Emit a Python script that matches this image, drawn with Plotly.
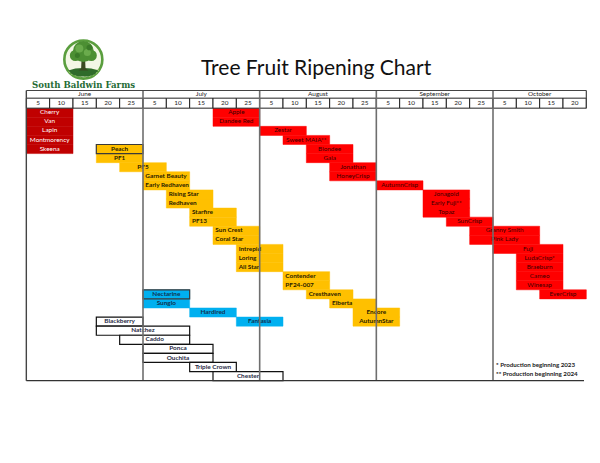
import math
import plotly.graph_objects as go

# ---------------- data ----------------
months = ["June", "July", "August", "September", "October"]
month_days = [[5, 10, 15, 20, 25], [5, 10, 15, 20, 25], [5, 10, 15, 20, 25],
              [5, 10, 15, 20, 25], [5, 10, 15, 20]]

# each variety: row, first 5-day period index, end period index (exclusive)
cherry_names = ["Cherry", "Van", "Lapin", "Montmorency", "Skeena"]
cherry_rows = [0, 1, 2, 3, 4]
cherry_start = [0, 0, 0, 0, 0]
cherry_end = [2, 2, 2, 2, 2]

apple_names = ["Apple", "Dandee Red", "Zestar", "Sweet MAIA**", "Blondee", "Gala",
               "Jonathan", "HoneyCrisp", "AutumnCrisp", "Jonagold", "Early Fuji**",
               "Topaz", "SunCrisp", "Granny Smith", "Pink Lady", "Fuji",
               "LudaCrisp*", "Braeburn", "Cameo", "Winesap", "EverCrisp"]
apple_rows = list(range(21))
apple_start = [8, 8, 10, 11, 12, 12, 13, 13, 15, 17, 17, 17, 18, 19, 19, 20, 21, 21, 21, 21, 22]
apple_end = [10, 10, 12, 13, 14, 14, 15, 15, 17, 19, 19, 19, 20, 22, 22, 23, 23, 23, 23, 23, 24]

peach_names = ["Peach", "PF1", "PF5", "Garnet Beauty", "Early Redhaven", "Rising Star",
               "Redhaven", "Starfire", "PF13", "Sun Crest", "Coral Star", "Intrepid",
               "Loring", "All Star", "Contender", "PF24-007", "Cresthaven", "Elberta",
               "Encore", "AutumnStar"]
peach_rows = list(range(4, 24))
peach_start = [3, 3, 4, 5, 5, 6, 6, 7, 7, 8, 8, 9, 9, 9, 11, 11, 12, 13, 14, 14]
peach_end = [5, 5, 6, 7, 7, 8, 8, 9, 9, 10, 10, 11, 11, 11, 13, 13, 14, 15, 16, 16]

nect_names = ["Nectarine", "Sunglo", "Hardired", "Fantasia"]
nect_rows = [20, 21, 22, 23]
nect_start = [5, 5, 7, 9]
nect_end = [7, 7, 9, 11]

berry_names = ["Blackberry", "Natchez", "Caddo", "Ponca", "Ouchita", "Triple Crown", "Chester"]
berry_rows = [23, 24, 25, 26, 27, 28, 29]
berry_start = [3, 3, 4, 5, 5, 7, 8]
berry_end = [5, 7, 7, 8, 8, 9, 11]

footnotes = ["* Production beginning 2023", "** Production beginning 2024"]

# labels drawn flush-left (text overflowing the cell, as in the sheet)
left_aligned = {"Garnet Beauty", "Early Redhaven", "Rising Star", "Redhaven", "Starfire",
                "PF13", "Sun Crest", "Coral Star", "Intrepid", "Loring", "All Star",
                "Contender", "PF24-007", "Cresthaven", "Elberta"}

# ---------------- geometry ----------------
OFF = 8                      # default <body> margin of the html page
W, H = 600 - OFF, 463 - OFF
XR = [-0.1, 24.2]
YR = [30.15, -2.0]
px_per_x = 23.333
px_per_y = 9.055
x_origin = 26.0 - OFF
y_origin = 108.5 - OFF
ml = x_origin + XR[0] * px_per_x
mr = W - (x_origin + XR[1] * px_per_x)
mt = y_origin + YR[1] * px_per_y
mb = H - (y_origin + YR[0] * px_per_y)
pw = W - ml - mr
ph = H - mt - mb


def pxx(px):  # page pixel -> paper
    return (px - OFF - ml) / pw


def pxy(py):
    return (H - mb - (py - OFF)) / ph


FONT = "Lato"
TS = 6.4
fig = go.Figure()


def add_group(names, rows, start, end, fill, line_color, line_w, txt_color, bold,
              outline_first=False):
    fig.add_trace(go.Bar(
        orientation="h",
        y=[r + 0.5 for r in rows],
        x=[e - s for s, e in zip(start, end)],
        base=start,
        width=[1.0] * len(names),
        marker=dict(color=fill, line=dict(color=line_color, width=line_w)),
        hoverinfo="skip",
        showlegend=False,
    ))
    if outline_first:
        fig.add_trace(go.Bar(
            orientation="h", y=[rows[0] + 0.5], x=[end[0] - start[0]], base=[start[0]],
            width=[1.0], marker=dict(color="rgba(0,0,0,0)", line=dict(color="#3a3a3a", width=1.2)),
            hoverinfo="skip", showlegend=False))
    cx, cy, ct, lx, ly, lt = [], [], [], [], [], []
    for n, r, s, e in zip(names, rows, start, end):
        if n in left_aligned:
            lx.append(s + 0.1); ly.append(r + 0.5); lt.append(n)
        else:
            cx.append((s + e) / 2); cy.append(r + 0.5); ct.append(n)
    tf = dict(family=FONT, size=TS, color=txt_color, weight="bold" if bold else "normal")
    if ct:
        fig.add_trace(go.Scatter(x=cx, y=cy, text=ct, mode="text", textposition="middle center",
                                 textfont=tf, hoverinfo="skip", showlegend=False, cliponaxis=False))
    if lt:
        fig.add_trace(go.Scatter(x=lx, y=ly, text=lt, mode="text", textposition="middle right",
                                 textfont=tf, hoverinfo="skip", showlegend=False, cliponaxis=False))


add_group(cherry_names, cherry_rows, cherry_start, cherry_end, "#C00000", "#C00000", 0.5, "#ffffff", False)
add_group(apple_names, apple_rows, apple_start, apple_end, "#FF0000", "#FF0000", 0.5, "#3a0000", False)
add_group(peach_names, peach_rows, peach_start, peach_end, "#FFC000", "#FFC000", 0.5, "#2a2000", True,
          outline_first=True)
add_group(nect_names, nect_rows, nect_start, nect_end, "#00B0F0", "#00B0F0", 0.5, "#10304f", True,
          outline_first=True)
add_group(berry_names, berry_rows, berry_start, berry_end, "#ffffff", "#111111", 1.2, "#1f2a44", True)

# ---------------- header ----------------
day_x, day_lab, mon_x = [], [], []
col = 0
for m, days in zip(months, month_days):
    mon_x.append(col + len(days) / 2)
    for d in days:
        day_x.append(col)
        day_lab.append(str(d))
        col += 1
n_cols = col

fig.add_trace(go.Bar(
    orientation="h", y=[-0.55] * n_cols, x=[1] * n_cols, base=day_x, width=[1.1] * n_cols,
    marker=dict(color="#ffffff", line=dict(color="#222222", width=1)),
    hoverinfo="skip", showlegend=False))
fig.add_trace(go.Scatter(x=[c + 0.5 for c in day_x], y=[-0.55] * n_cols, text=day_lab,
                         mode="text", textposition="middle center",
                         textfont=dict(family=FONT, size=TS, color="#222222"),
                         hoverinfo="skip", showlegend=False, cliponaxis=False))
fig.add_trace(go.Scatter(x=mon_x, y=[-1.52] * len(months), text=months,
                         mode="text", textposition="middle center",
                         textfont=dict(family=FONT, size=TS, color="#222222"),
                         hoverinfo="skip", showlegend=False, cliponaxis=False))

shapes = []
acc = 0
for days in month_days[:-1]:
    acc += len(days)
    shapes.append(dict(type="line", xref="x", yref="y", x0=acc, x1=acc, y0=-1.95, y1=30,
                       line=dict(color="#6e6e6e", width=1.6), layer="above"))
shapes.append(dict(type="line", xref="x", yref="y", x0=0, x1=0, y0=-1.95, y1=30,
                   line=dict(color="#444444", width=1.4), layer="above"))
shapes.append(dict(type="line", xref="x", yref="y", x0=0, x1=n_cols, y0=-1.95, y1=-1.95,
                   line=dict(color="#444444", width=1.2), layer="above"))
shapes.append(dict(type="line", xref="x", yref="y", x0=n_cols, x1=n_cols, y0=-1.95, y1=0,
                   line=dict(color="#444444", width=1.2), layer="above"))
shapes.append(dict(type="line", xref="x", yref="y", x0=0, x1=n_cols - 0.1, y0=30, y1=30,
                   line=dict(color="#333333", width=1.4), layer="above"))

# ---------------- logo ----------------
cx0, cy0, R = 83.0, 60.0, 19.0


def circ(cx, cy, r, fill, line="rgba(0,0,0,0)", lw=0):
    return dict(type="circle", xref="paper", yref="paper",
                x0=pxx(cx - r), x1=pxx(cx + r), y0=pxy(cy + r), y1=pxy(cy - r),
                fillcolor=fill, line=dict(color=line, width=lw), layer="above")


def path(pts, fill, line="rgba(0,0,0,0)", lw=0):
    d = "M " + " L ".join(f"{pxx(x):.5f},{pxy(y):.5f}" for x, y in pts) + " Z"
    return dict(type="path", xref="paper", yref="paper", path=d, fillcolor=fill,
                line=dict(color=line, width=lw), layer="above")


shapes.append(circ(cx0, cy0, R, "#f3f7e6", "#5a9e3e", 2.6))
for ang in range(200, 345, 18):
    a1 = math.radians(ang)
    a2 = math.radians(ang + 8)
    shapes.append(path([(cx0, cy0 + 9),
                        (cx0 + 16 * math.cos(a1), cy0 + 9 - 16 * math.sin(a1) * 0.55),
                        (cx0 + 16 * math.cos(a2), cy0 + 9 - 16 * math.sin(a2) * 0.55)],
                       "#b8d68c"))
shapes.append(path([(cx0 - 15, cy0 + 11), (cx0 - 8, cy0 + 9), (cx0, cy0 + 8.5), (cx0 + 8, cy0 + 9),
                    (cx0 + 15, cy0 + 11), (cx0 + 11, cy0 + 15), (cx0 + 5, cy0 + 17),
                    (cx0 - 5, cy0 + 17), (cx0 - 11, cy0 + 15)], "#2f6b2a"))
shapes.append(path([(cx0 - 1.6, cy0 - 4), (cx0 + 1.6, cy0 - 4), (cx0 + 2.2, cy0 + 9),
                    (cx0 + 5, cy0 + 11), (cx0 - 5, cy0 + 11), (cx0 - 2.2, cy0 + 9)], "#3b4a22"))
shapes.append(circ(cx0, cy0 - 8, 10.5, "#4c8f33"))
shapes.append(circ(cx0 - 8, cy0 - 4, 5.5, "#4c8f33"))
shapes.append(circ(cx0 + 8, cy0 - 4, 5.5, "#4c8f33"))
shapes.append(circ(cx0 - 4, cy0 - 11, 4, "#6aab4c"))
shapes.append(circ(cx0 + 4, cy0 - 7, 3.5, "#6aab4c"))
shapes.append(circ(cx0 - 6, cy0 - 4, 2.5, "#3a7a28"))
shapes.append(circ(cx0 + 6, cy0 - 12, 2.8, "#3a7a28"))

annotations = [
    dict(text="Tree Fruit Ripening Chart", xref="paper", yref="paper", x=pxx(316), y=pxy(67),
         showarrow=False, xanchor="center", yanchor="middle",
         font=dict(family=FONT, size=21, color="#111111")),
    dict(text="South Baldwin Farms", xref="paper", yref="paper", x=pxx(83.5), y=pxy(85),
         showarrow=False, xanchor="center", yanchor="middle",
         font=dict(family="DejaVu Serif", size=8.6, color="#1f6b35", weight="bold")),
]
for i, t in enumerate(footnotes):
    annotations.append(dict(text=t, xref="x", yref="y", x=20.05, y=28.25 + i * 0.93,
                            showarrow=False, xanchor="left", yanchor="middle",
                            font=dict(family=FONT, size=6.2, color="#222222", weight="bold")))

fig.update_layout(
    width=W, height=H,
    margin=dict(l=ml, r=mr, t=mt, b=mb, pad=0, autoexpand=False),
    paper_bgcolor="#ffffff", plot_bgcolor="#ffffff",
    barmode="overlay",
    xaxis=dict(range=XR, showgrid=False, zeroline=False, showticklabels=False, ticks="",
               fixedrange=True),
    yaxis=dict(range=YR, showgrid=False, zeroline=False, showticklabels=False, ticks="",
               fixedrange=True),
    shapes=shapes,
    annotations=annotations,
    showlegend=False,
)

fig.write_html("out.html")
